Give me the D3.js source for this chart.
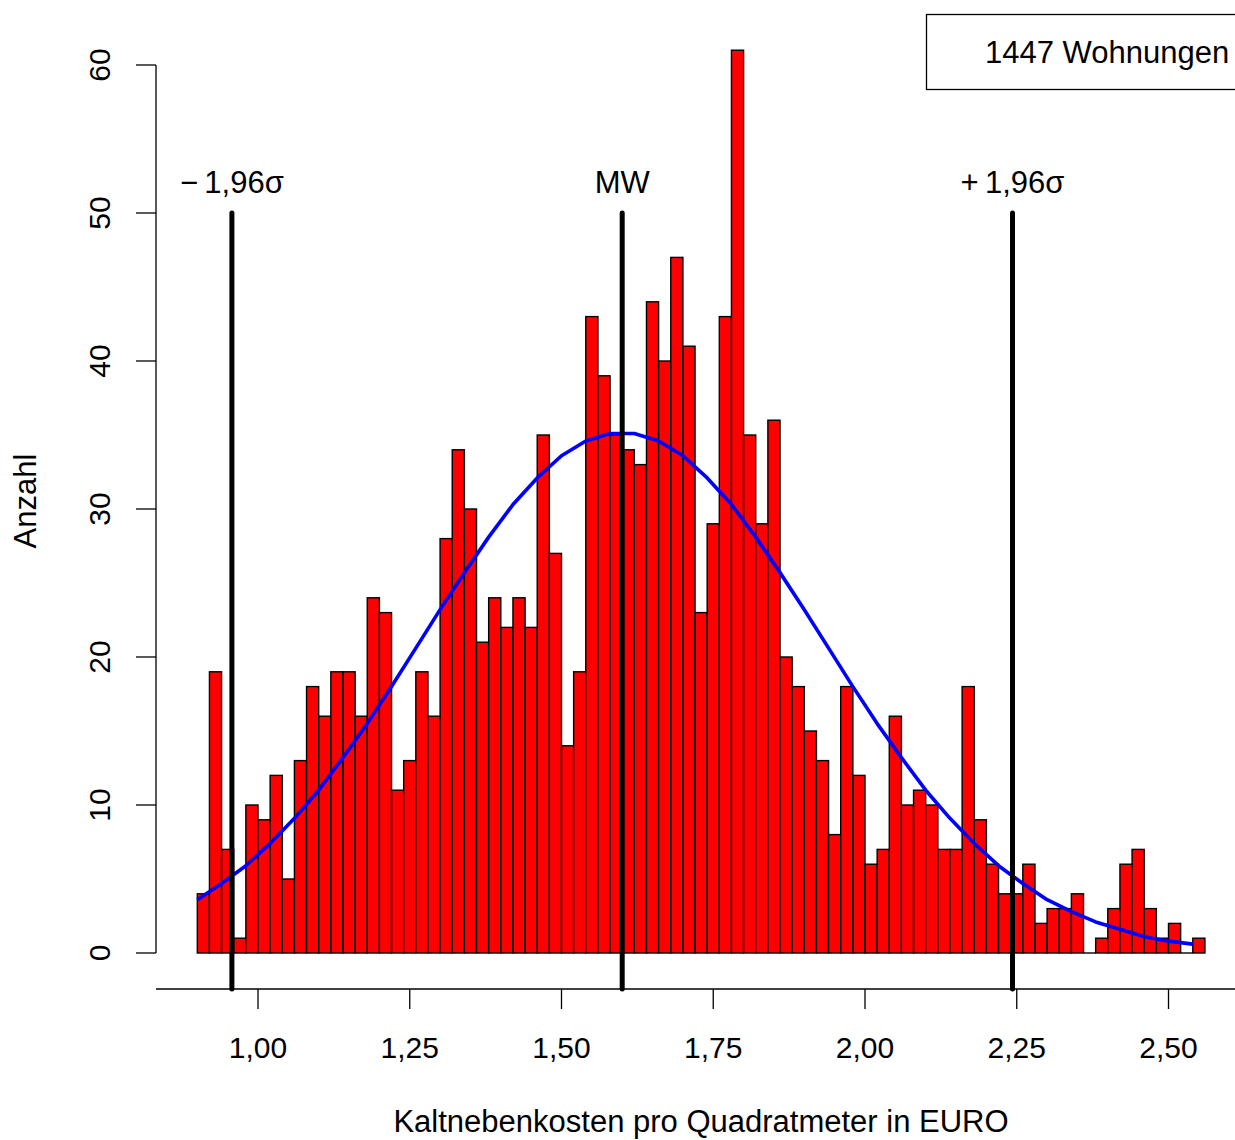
<!DOCTYPE html>
<html lang="de">
<head>
    <meta charset="UTF-8">
    <title>Kaltnebenkosten Histogramm</title>
    <style>
        body {
            background-color: #ffffff;
            margin: 0;
            overflow: hidden;
            font-family: "Liberation Sans", Arial, sans-serif;
        }
        svg {
            display: block;
        }
        .axis-label, .ref-label, .legend-text {
            font-family: "Liberation Sans", Arial, sans-serif;
            font-size: 31px;
            fill: #000;
        }
        .tick-label {
            font-family: "Liberation Sans", Arial, sans-serif;
            font-size: 30px;
            fill: #000;
        }
    </style>
</head>
<body>
    <svg id="hist"></svg>

    <script src="https://d3js.org/d3.v7.min.js"></script>
    <script>
        // histogram: lower break of first bin, bin width, counts per bin
        const firstBreak = 0.90;
        const binWidth = 0.02;
        const counts = [
            4, 19, 7, 1, 10, 9, 12, 5, 13, 18,
            16, 19, 19, 16, 24, 23, 11, 13, 19, 16,
            28, 34, 30, 21, 24, 22, 24, 22, 35, 27,
            14, 19, 43, 39, 35, 34, 33, 44, 40, 47,
            41, 23, 29, 43, 61, 35, 29, 36, 20, 18,
            15, 13, 8, 18, 12, 6, 7, 16, 10, 11,
            10, 7, 7, 18, 9, 6, 4, 4, 6, 2,
            3, 3, 4, 0, 1, 3, 6, 7, 3, 1,
            2, 0, 1
        ];

        // normal curve
        const curveX = [
            0.90, 0.94, 0.98, 1.02, 1.06, 1.10, 1.14, 1.18, 1.22, 1.26,
            1.30, 1.34, 1.38, 1.42, 1.46, 1.50, 1.54, 1.58, 1.62, 1.66,
            1.70, 1.74, 1.78, 1.82, 1.86, 1.90, 1.94, 1.98, 2.02, 2.06,
            2.10, 2.14, 2.18, 2.22, 2.26, 2.30, 2.34, 2.38, 2.42, 2.46,
            2.50, 2.54
        ];
        const curveY = [
            3.6, 4.7, 5.9, 7.4, 9.1, 11.0, 13.2, 15.5, 18.0, 20.6,
            23.2, 25.7, 28.1, 30.3, 32.1, 33.6, 34.6, 35.1, 35.1, 34.6,
            33.6, 32.1, 30.3, 28.1, 25.7, 23.2, 20.6, 18.0, 15.5, 13.2,
            11.0, 9.1, 7.4, 5.9, 4.7, 3.6, 2.8, 2.1, 1.6, 1.1,
            0.8, 0.6
        ];

        // reference lines (mean and +-1.96 sigma)
        const refLabels = ["\u2212\u20091,96\u03C3", "MW", "+\u20091,96\u03C3"];
        const refValues = [0.957, 1.600, 2.243];
        const refTop = 50;

        const xTicks = [1.00, 1.25, 1.50, 1.75, 2.00, 2.25, 2.50];
        const yTicks = [0, 10, 20, 30, 40, 50, 60];
        const legendText = "1447 Wohnungen";

        const W = 1235, H = 1140;
        const plot = { left: 156, right: 1235, axisY: 989 };

        const svg = d3.select("#hist")
            .attr("width", W)
            .attr("height", H);

        const x = d3.scaleLinear().domain([1.00, 2.50]).range([258, 1168.5]);
        const y = d3.scaleLinear().domain([0, 60]).range([953, 65]);

        const fmt = v => d3.format(".2f")(v).replace(".", ",");

        // bars
        const bins = counts.map((c, i) => ({
            x0: firstBreak + i * binWidth,
            x1: firstBreak + (i + 1) * binWidth,
            n: c
        }));

        svg.append("g")
            .selectAll("rect")
            .data(bins)
            .join("rect")
            .attr("x", d => x(d.x0))
            .attr("width", d => x(d.x1) - x(d.x0))
            .attr("y", d => y(d.n))
            .attr("height", d => y(0) - y(d.n))
            .attr("fill", "#ff0000")
            .attr("stroke", d => d.n > 0 ? "#000" : "none")
            .attr("stroke-width", 1.4);

        // zero-count bins still get a baseline stroke
        svg.append("g")
            .selectAll("line")
            .data(bins.filter(d => d.n === 0))
            .join("line")
            .attr("x1", d => x(d.x0))
            .attr("x2", d => x(d.x1))
            .attr("y1", y(0))
            .attr("y2", y(0))
            .attr("stroke", "#000")
            .attr("stroke-width", 1.4);

        // normal curve
        const line = d3.line()
            .x(d => x(d[0]))
            .y(d => y(d[1]));

        svg.append("path")
            .datum(curveX.map((v, i) => [v, curveY[i]]))
            .attr("fill", "none")
            .attr("stroke", "#0000ff")
            .attr("stroke-width", 3.6)
            .attr("stroke-linejoin", "round")
            .attr("d", line);

        // reference lines
        svg.append("g")
            .selectAll("line")
            .data(refValues)
            .join("line")
            .attr("x1", d => x(d))
            .attr("x2", d => x(d))
            .attr("y1", y(refTop))
            .attr("y2", plot.axisY)
            .attr("stroke", "#000")
            .attr("stroke-width", 5)
            .attr("stroke-linecap", "round");

        svg.append("g")
            .selectAll("text")
            .data(refValues)
            .join("text")
            .attr("class", "ref-label")
            .attr("x", d => x(d))
            .attr("y", 193)
            .attr("text-anchor", "middle")
            .text((d, i) => refLabels[i]);

        // x axis
        const xAxis = svg.append("g");
        xAxis.append("line")
            .attr("x1", plot.left)
            .attr("x2", plot.right)
            .attr("y1", plot.axisY)
            .attr("y2", plot.axisY)
            .attr("stroke", "#000")
            .attr("stroke-width", 1.3);
        xAxis.selectAll("line.tick")
            .data(xTicks)
            .join("line")
            .attr("class", "tick")
            .attr("x1", d => x(d))
            .attr("x2", d => x(d))
            .attr("y1", plot.axisY)
            .attr("y2", plot.axisY + 20)
            .attr("stroke", "#000")
            .attr("stroke-width", 1.3);
        xAxis.selectAll("text")
            .data(xTicks)
            .join("text")
            .attr("class", "tick-label")
            .attr("x", d => x(d))
            .attr("y", 1058)
            .attr("text-anchor", "middle")
            .text(fmt);

        // y axis
        const yAxis = svg.append("g");
        yAxis.append("line")
            .attr("x1", plot.left)
            .attr("x2", plot.left)
            .attr("y1", y(0))
            .attr("y2", y(60))
            .attr("stroke", "#000")
            .attr("stroke-width", 1.3);
        yAxis.selectAll("line.tick")
            .data(yTicks)
            .join("line")
            .attr("class", "tick")
            .attr("x1", plot.left - 20)
            .attr("x2", plot.left)
            .attr("y1", d => y(d))
            .attr("y2", d => y(d))
            .attr("stroke", "#000")
            .attr("stroke-width", 1.3);
        yAxis.selectAll("text")
            .data(yTicks)
            .join("text")
            .attr("class", "tick-label")
            .attr("transform", d => `translate(110,${y(d)}) rotate(-90)`)
            .attr("text-anchor", "middle")
            .text(d => d);

        // axis titles
        svg.append("text")
            .attr("class", "axis-label")
            .attr("x", 701)
            .attr("y", 1132)
            .attr("text-anchor", "middle")
            .text("Kaltnebenkosten pro Quadratmeter in EURO");

        svg.append("text")
            .attr("class", "axis-label")
            .attr("transform", "translate(36,501) rotate(-90)")
            .attr("text-anchor", "middle")
            .text("Anzahl");

        // legend box
        svg.append("rect")
            .attr("x", 926.5)
            .attr("y", 14.5)
            .attr("width", 340)
            .attr("height", 75)
            .attr("fill", "none")
            .attr("stroke", "#000")
            .attr("stroke-width", 1.3);
        svg.append("text")
            .attr("class", "legend-text")
            .attr("x", 985)
            .attr("y", 63)
            .text(legendText);
    </script>
</body>
</html>
